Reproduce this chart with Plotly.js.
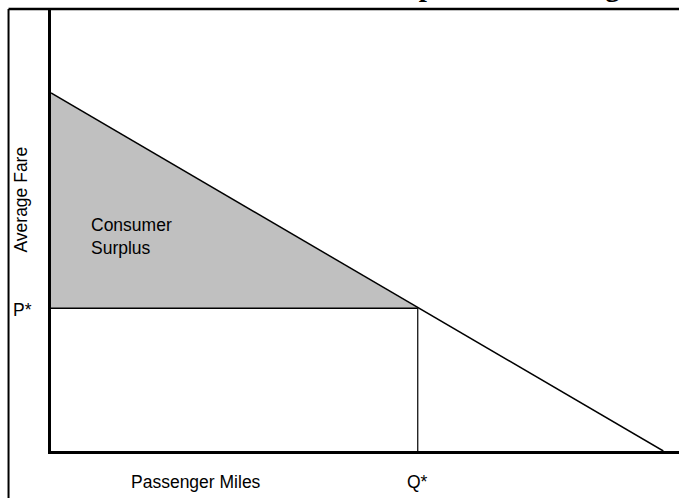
<!DOCTYPE html>
<html>
<head>
<meta charset="utf-8">
<script src="https://cdn.plot.ly/plotly-3.0.1.min.js"></script>
<style>html,body{margin:0;padding:0;background:#fff;}#chart{width:679px;height:498px;}</style>
</head>
<body>
<div id="chart"></div>
<script>
// Data (arbitrary units)
const demandX = [0, 97.5];
const demandY = [81, 0];
const qStar = 58.4;
const pStar = 32.3;
const labels = {
  title: "Consumer Surplus for Passenger Rail",
  yLabel: "Average Fare",
  xLabel: "Passenger Miles",
  surplus: "Consumer<br>Surplus",
  p: "P*",
  q: "Q*"
};

const lab = {family: "Liberation Sans, Arial, sans-serif", size: 17.5, color: "#000"};

const traces = [
  {x: [0, 0, qStar, 0], y: [demandY[0], pStar, pStar, demandY[0]], mode: "lines",
   fill: "toself", fillcolor: "#c0c0c0", line: {width: 0}, hoverinfo: "skip"},
  {x: demandX, y: demandY, mode: "lines", line: {color: "#000", width: 1.5}},
  {x: [0, qStar], y: [pStar, pStar], mode: "lines", line: {color: "#000", width: 1.5}},
  {x: [qStar, qStar], y: [pStar, 0], mode: "lines", line: {color: "#000", width: 1.2}}
];

const L = 50.5, T = 9, B = 47;
const H = 498 - T - B, W = 679 - L;
const px = v => (v - L) / W;
const py = v => (498 - B - v) / H;
const layout = {
  width: 679, height: 498,
  margin: {l: L, r: 0, t: T, b: B, pad: 0},
  paper_bgcolor: "#fff", plot_bgcolor: "#fff",
  showlegend: false,
  xaxis: {range: [0, 100], showline: true, linewidth: 3, linecolor: "#000",
          showgrid: false, zeroline: false, showticklabels: false, ticks: "", fixedrange: true},
  yaxis: {range: [0, 100], showline: true, linewidth: 3, linecolor: "#000",
          showgrid: false, zeroline: false, showticklabels: false, ticks: "", fixedrange: true},
  shapes: [
    {type: "line", xref: "paper", yref: "paper", x0: px(8), x1: 1.05, y0: 1, y1: 1,
     line: {color: "#000", width: 2.5}},
    {type: "line", xref: "paper", yref: "paper", x0: px(8), x1: px(8), y0: 1, y1: -0.2,
     line: {color: "#000", width: 2}}
  ],
  annotations: [
    {text: labels.title, xref: "paper", yref: "paper", x: px(236), y: py(4),
     xanchor: "left", yanchor: "bottom", showarrow: false,
     font: {family: "Liberation Serif, Times New Roman, serif", size: 29, color: "#000", weight: "bold"}},
    {text: labels.yLabel, xref: "paper", yref: "paper", x: px(20), y: py(200),
     xanchor: "center", yanchor: "middle", textangle: -90, showarrow: false, font: lab},
    {text: labels.surplus, xref: "paper", yref: "paper", x: px(89), y: py(237),
     xanchor: "left", yanchor: "middle", align: "left", showarrow: false, font: lab},
    {text: labels.p, xref: "paper", yref: "paper", x: px(10), y: py(310),
     xanchor: "left", yanchor: "middle", showarrow: false, font: lab},
    {text: labels.xLabel, xref: "paper", yref: "paper", x: px(196), y: py(482),
     xanchor: "center", yanchor: "middle", showarrow: false, font: lab},
    {text: labels.q, xref: "x", yref: "paper", x: qStar, y: py(482),
     xanchor: "center", yanchor: "middle", showarrow: false, font: lab}
  ]
};

Plotly.newPlot("chart", traces, layout, {displayModeBar: false, staticPlot: true});
</script>
</body>
</html>
